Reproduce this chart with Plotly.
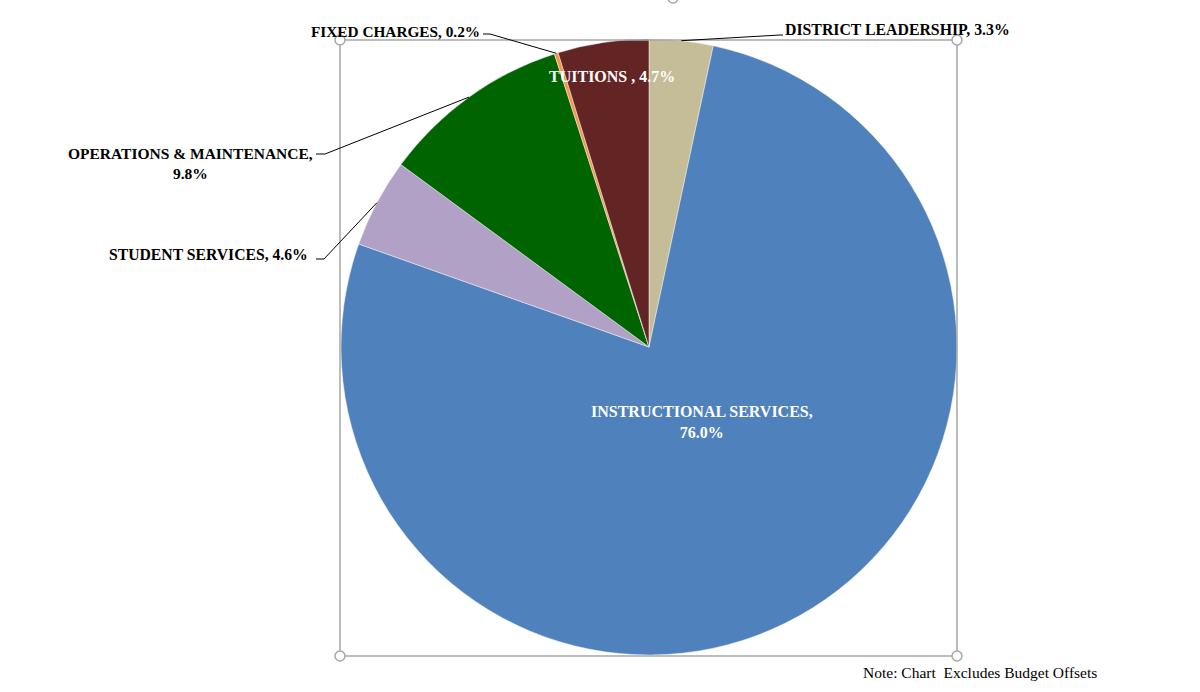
import math
import plotly.graph_objects as go

# fatias da pizza, no sentido horario a partir do topo
categorias = ["DISTRICT LEADERSHIP", "INSTRUCTIONAL SERVICES", "STUDENT SERVICES",
              "OPERATIONS & MAINTENANCE", "FIXED CHARGES", "TUITIONS "]
percentuais = [3.3, 76.0, 4.6, 9.8, 0.2, 4.7]
cores = ["#C4BD97", "#4F81BD", "#B2A1C7", "#006400", "#F79646", "#632523"]
nota = "Note: Chart  Excludes Budget Offsets"

W, H = 1200, 692
cx, cy, r = 649, 347, 308


def px(x, y):
    return x / W, 1 - y / H


fig = go.Figure()
fig.add_trace(go.Pie(
    labels=categorias,
    values=percentuais,
    sort=False,
    direction="clockwise",
    rotation=0,
    textinfo="none",
    hoverinfo="label+percent",
    marker=dict(colors=cores, line=dict(color="#F2F2F2", width=0.5)),
    domain=dict(x=[(cx - r) / W, (cx + r) / W], y=[1 - (cy + r) / H, 1 - (cy - r) / H]),
    showlegend=False,
))

fonte = "Liberation Serif"
shapes = []
annotations = []

# moldura de selecao do grafico
x0, y0 = px(340, 40)
x1, y1 = px(957, 656)
shapes.append(dict(type="rect", xref="paper", yref="paper", x0=x0, y0=y0, x1=x1, y1=y1,
                   line=dict(color="#A6A6A6", width=1.5)))
for hx, hy in [(340, 40), (957, 40), (340, 656), (957, 656), (673, -2)]:
    a0, b0 = px(hx - 5, hy - 5)
    a1, b1 = px(hx + 5, hy + 5)
    shapes.append(dict(type="circle", xref="paper", yref="paper", x0=a0, y0=b0, x1=a1, y1=b1,
                       line=dict(color="#A6A6A6", width=1.5), fillcolor="white"))

# ponto medio de cada fatia na borda
total = sum(percentuais)
meios = []
acum = 0
for v in percentuais:
    ang = (acum + v / 2) / total * 2 * math.pi
    meios.append((cx + r * math.sin(ang), cy - r * math.cos(ang)))
    acum += v

# linhas guia: indice da fatia -> (cotovelo, fim)
guias = {
    0: [(780, 35), (783, 35)],
    4: [(490, 34), (483, 34)],
    3: [(325, 154), (316, 154)],
    2: [(324, 259), (316, 259)],
}
for i, pontos in guias.items():
    caminho = [meios[i]] + pontos
    d = ""
    for k, (x, y) in enumerate(caminho):
        a, b = px(x, y)
        d += ("M" if k == 0 else "L") + f"{a},{b} "
    shapes.append(dict(type="path", xref="paper", yref="paper", path=d,
                       line=dict(color="black", width=1)))


def rotulo(texto, x, y, anchor="center", cor="black", tam=16):
    a, b = px(x, y)
    annotations.append(dict(text=texto, x=a, y=b, xref="paper", yref="paper",
                            showarrow=False, xanchor=anchor, yanchor="middle", align="center",
                            font=dict(family=fonte, size=tam, color=cor)))


def pct(i):
    return f"{percentuais[i]:.1f}%"


rotulo(f"<b>{categorias[0]}, {pct(0)}</b>", 783, 30, "left", tam=15.8)
rotulo(f"<b>{categorias[1]},<br>{pct(1)}</b>", 702, 422, cor="white")
rotulo(f"<b>{categorias[2]}, {pct(2)}</b>", 310, 254, "right", tam=15.7)
rotulo(f"<b>{categorias[3]},<br>{pct(3)}</b>", 190, 163, tam=15.5)
rotulo(f"<b>{categorias[4]}, {pct(4)}</b>", 482, 31, "right", tam=15.3)
rotulo(f"<b>{categorias[5]}, {pct(5)}</b>", 612, 77, cor="white")
rotulo(nota, 980, 672, tam=15.5)

fig.update_layout(
    width=W, height=H,
    margin=dict(l=0, r=0, t=0, b=0),
    paper_bgcolor="white",
    plot_bgcolor="white",
    shapes=shapes,
    annotations=annotations,
)

fig.write_html("out.html", config={"displayModeBar": False},
               post_script="document.body.style.margin='0';")
